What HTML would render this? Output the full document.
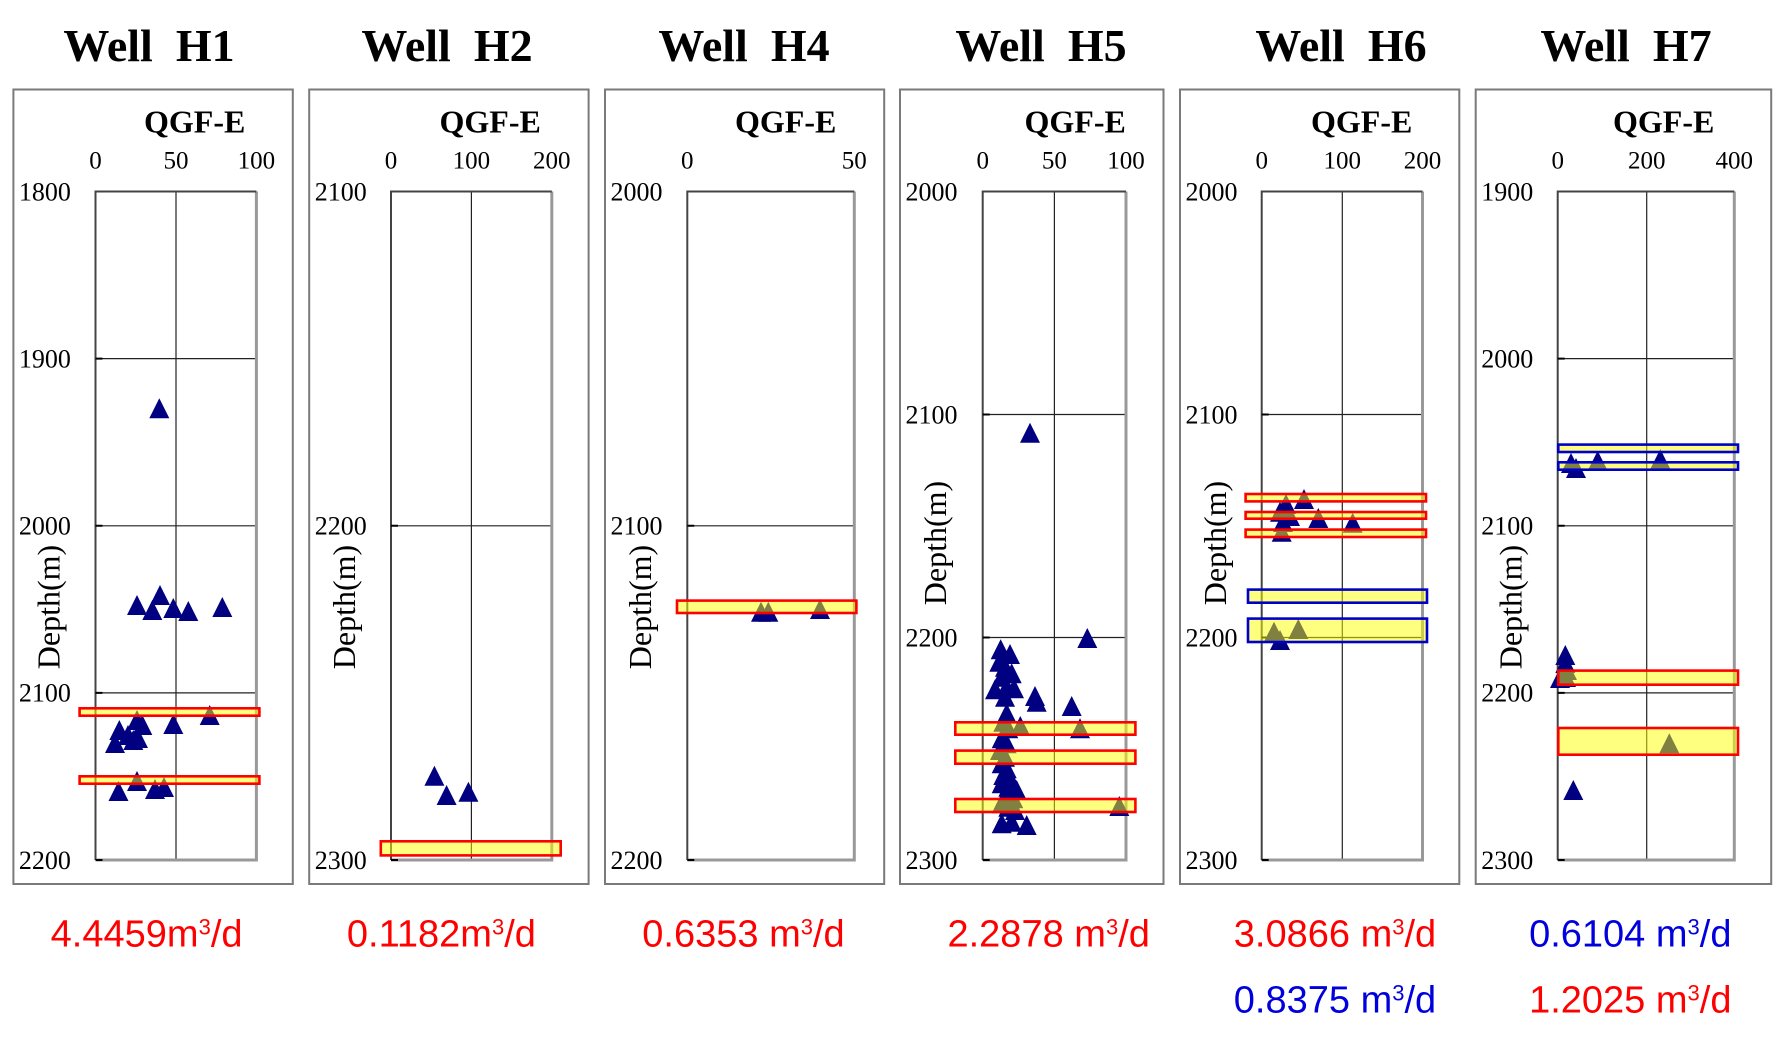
<!DOCTYPE html>
<html><head><meta charset="utf-8"><style>
html,body{margin:0;padding:0;background:#fff;}
svg{display:block;}
.t{font-family:"Liberation Serif",serif;font-weight:bold;font-size:46px;fill:#000;}
.q{font-family:"Liberation Serif",serif;font-weight:bold;font-size:32px;fill:#000;}
.xt{font-family:"Liberation Serif",serif;font-size:25px;fill:#000;text-anchor:middle;}
.yt{font-family:"Liberation Serif",serif;font-size:26px;fill:#000;text-anchor:end;}
.dp{font-family:"Liberation Serif",serif;font-size:32px;fill:#000;text-anchor:middle;}
.v{font-family:"Liberation Sans",sans-serif;font-size:38px;text-anchor:middle;}
.box{fill:none;stroke:#7a7a7a;stroke-width:2;}
.grid{stroke:#222;stroke-width:1.2;fill:none;}
.fl{stroke:#444;stroke-width:2;fill:none;}
.fr{stroke:#999;stroke-width:3;fill:none;}
.stub{stroke:#000;stroke-width:2;fill:none;}
.tri{fill:#000080;}
.rb{fill:rgba(255,255,0,0.5);stroke:#ff0000;stroke-width:2.6;}
.bb{fill:rgba(255,255,0,0.5);stroke:#0000cc;stroke-width:2.6;}
</style></head><body>
<svg width="1773" height="1045" viewBox="0 0 1773 1045" xmlns="http://www.w3.org/2000/svg">
<rect width="1773" height="1045" fill="#fff"/>

<text class="t" x="149" y="61" text-anchor="middle">Well&#160;&#160;H1</text>
<text class="t" x="447" y="61" text-anchor="middle">Well&#160;&#160;H2</text>
<text class="t" x="744" y="61" text-anchor="middle">Well&#160;&#160;H4</text>
<text class="t" x="1041" y="61" text-anchor="middle">Well&#160;&#160;H5</text>
<text class="t" x="1341" y="61" text-anchor="middle">Well&#160;&#160;H6</text>
<text class="t" x="1626" y="61" text-anchor="middle">Well&#160;&#160;H7</text>

<!-- ===== H1 ===== -->
<rect class="box" x="13.4" y="89.5" width="279.4" height="794.5"/>
<path class="grid" d="M95.5 358.6H256.4M95.5 525.8H256.4M95.5 692.9H256.4M176 191.5V860"/>
<path class="fr" d="M256.4 191.5V860H95.5"/>
<path class="fl" d="M95.5 860V191.5H256.4"/>
<path class="stub" d="M95.5 358.6h7M95.5 525.8h7M95.5 692.9h7M95.5 860h7"/>
<text class="q" x="144" y="132.7">QGF-E</text>
<text class="xt" x="95.5" y="168.3">0</text><text class="xt" x="176" y="168.3">50</text><text class="xt" x="256.4" y="168.3">100</text>
<text class="yt" x="70.9" y="200.3">1800</text><text class="yt" x="70.9" y="367.4">1900</text><text class="yt" x="70.9" y="534.6">2000</text><text class="yt" x="70.9" y="701.7">2100</text><text class="yt" x="70.9" y="868.8">2200</text>
<text class="dp" transform="translate(59.4,607) rotate(-90)">Depth(m)</text>
<g class="tri">
<path d="M159.3 398.3l10 20h-20z"/><path d="M137 595l10 20h-20z"/><path d="M160 585l10 20h-20z"/><path d="M152.3 600l10 20h-20z"/><path d="M173.3 598l10 20h-20z"/><path d="M188.3 601l10 20h-20z"/><path d="M222.3 597l10 20h-20z"/>
<path d="M137 710l10 20h-20z"/><path d="M142.3 715l10 20h-20z"/><path d="M119.3 720l10 20h-20z"/><path d="M115 733l10 20h-20z"/><path d="M133.3 730l10 20h-20z"/><path d="M128 725l10 20h-20z"/><path d="M138 728l10 20h-20z"/><path d="M173.3 714l10 20h-20z"/><path d="M209.7 705l10 20h-20z"/>
<path d="M137 771l10 20h-20z"/><path d="M118.5 781l10 20h-20z"/><path d="M155 779l10 20h-20z"/><path d="M164 777l10 20h-20z"/>
</g>
<rect class="rb" x="79.6" y="708.3" width="179.8" height="7.4"/>
<rect class="rb" x="79.6" y="776.3" width="179.8" height="7.4"/>

<!-- ===== H2 ===== -->
<rect class="box" x="309.2" y="89.5" width="279.4" height="794.5"/>
<path class="grid" d="M391 525.8H551.8M471.4 191.5V860"/>
<path class="fr" d="M551.8 191.5V860H391"/>
<path class="fl" d="M391 860V191.5H551.8"/>
<path class="stub" d="M391 525.8h7M391 860h7"/>
<text class="q" x="439.5" y="132.7">QGF-E</text>
<text class="xt" x="391" y="168.3">0</text><text class="xt" x="471.4" y="168.3">100</text><text class="xt" x="551.8" y="168.3">200</text>
<text class="yt" x="366.7" y="200.3">2100</text><text class="yt" x="366.7" y="534.6">2200</text><text class="yt" x="366.7" y="868.8">2300</text>
<text class="dp" transform="translate(355.2,607) rotate(-90)">Depth(m)</text>
<g class="tri">
<path d="M434.4 765.7l10 20h-20z"/><path d="M446.6 785l10 20h-20z"/><path d="M468.4 781.7l10 20h-20z"/>
</g>
<rect class="rb" x="380.8" y="841.3" width="179.9" height="14.1"/>

<!-- ===== H4 ===== -->
<rect class="box" x="605" y="89.5" width="279.2" height="794.5"/>
<path class="grid" d="M687.3 525.8H854.3"/>
<path class="fr" d="M854.3 191.5V860H687.3"/>
<path class="fl" d="M687.3 860V191.5H854.3"/>
<path class="stub" d="M687.3 525.8h7M687.3 860h7"/>
<text class="q" x="735" y="132.7">QGF-E</text>
<text class="xt" x="687.3" y="168.3">0</text><text class="xt" x="854.3" y="168.3">50</text>
<text class="yt" x="662.5" y="200.3">2000</text><text class="yt" x="662.5" y="534.6">2100</text><text class="yt" x="662.5" y="868.8">2200</text>
<text class="dp" transform="translate(651,607) rotate(-90)">Depth(m)</text>
<g class="tri">
<path d="M761 601.7l10 20h-20z"/><path d="M768.3 601.7l10 20h-20z"/><path d="M820 599l10 20h-20z"/>
</g>
<rect class="rb" x="677" y="600.6" width="179.4" height="12.4"/>

<!-- ===== H5 ===== -->
<rect class="box" x="900" y="89.5" width="263.5" height="794.5"/>
<path class="grid" d="M982.7 414.5H1126M982.7 637.5H1126M1054.4 191.5V860"/>
<path class="fr" d="M1126 191.5V860H982.7"/>
<path class="fl" d="M982.7 860V191.5H1126"/>
<path class="stub" d="M982.7 414.5h7M982.7 637.5h7M982.7 860h7"/>
<text class="q" x="1024.5" y="132.7">QGF-E</text>
<text class="xt" x="982.7" y="168.3">0</text><text class="xt" x="1054.4" y="168.3">50</text><text class="xt" x="1126" y="168.3">100</text>
<text class="yt" x="957.5" y="200.3">2000</text><text class="yt" x="957.5" y="423.3">2100</text><text class="yt" x="957.5" y="646.3">2200</text><text class="yt" x="957.5" y="868.8">2300</text>
<text class="dp" transform="translate(946,543) rotate(-90)">Depth(m)</text>
<g class="tri">
<path d="M1030 422.7l10 20h-20z"/><path d="M1087.3 628l10 20h-20z"/>
<path d="M1000.7 639.3l10 20h-20z"/><path d="M1010 644l10 20h-20z"/><path d="M999.3 651.7l10 20h-20z"/><path d="M1005 656.7l10 20h-20z"/><path d="M1011.7 663.3l10 20h-20z"/><path d="M1001.7 666.7l10 20h-20z"/>
<path d="M995 679.3l10 20h-20z"/><path d="M1006.7 676.7l10 20h-20z"/><path d="M1014 678.3l10 20h-20z"/><path d="M1005 686.7l10 20h-20z"/><path d="M1035 686l10 20h-20z"/><path d="M1036.7 691.7l10 20h-20z"/><path d="M1071.7 696l10 20h-20z"/>
<path d="M1006.7 703.3l10 20h-20z"/><path d="M1003.3 711.7l10 20h-20z"/><path d="M1020.3 716l10 20h-20z"/><path d="M1008.3 718.3l10 20h-20z"/><path d="M1080 718.3l10 20h-20z"/>
<path d="M1001.7 728.3l10 20h-20z"/><path d="M1006.7 733.3l10 20h-20z"/><path d="M1000 740l10 20h-20z"/><path d="M1005 746.7l10 20h-20z"/><path d="M1001.7 753.3l10 20h-20z"/><path d="M1006.7 758.3l10 20h-20z"/>
<path d="M1003.3 765l10 20h-20z"/><path d="M1010 768.3l10 20h-20z"/><path d="M1001.7 773.3l10 20h-20z"/><path d="M1008.3 776.7l10 20h-20z"/><path d="M1016.7 780l10 20h-20z"/><path d="M1005 786.7l10 20h-20z"/><path d="M1013.3 788.3l10 20h-20z"/>
<path d="M1001.7 793.3l10 20h-20z"/><path d="M1008.3 796.7l10 20h-20z"/><path d="M1015 800l10 20h-20z"/><path d="M1119.3 796l10 20h-20z"/>
<path d="M1001.7 813.3l10 20h-20z"/><path d="M1026.7 815l10 20h-20z"/><path d="M1011.7 811.7l10 20h-20z"/>
</g>
<rect class="rb" x="955.3" y="722.3" width="180.1" height="12.4"/>
<rect class="rb" x="955.3" y="750.6" width="180.1" height="13.1"/>
<rect class="rb" x="955.3" y="799" width="180.1" height="13"/>

<!-- ===== H6 ===== -->
<rect class="box" x="1180" y="89.5" width="279.3" height="794.5"/>
<path class="grid" d="M1261.7 414.5H1422.5M1261.7 637.5H1422.5M1342.3 191.5V860"/>
<path class="fr" d="M1422.5 191.5V860H1261.7"/>
<path class="fl" d="M1261.7 860V191.5H1422.5"/>
<path class="stub" d="M1261.7 414.5h7M1261.7 637.5h7M1261.7 860h7"/>
<text class="q" x="1311" y="132.7">QGF-E</text>
<text class="xt" x="1261.7" y="168.3">0</text><text class="xt" x="1342.3" y="168.3">100</text><text class="xt" x="1422.5" y="168.3">200</text>
<text class="yt" x="1237.5" y="200.3">2000</text><text class="yt" x="1237.5" y="423.3">2100</text><text class="yt" x="1237.5" y="646.3">2200</text><text class="yt" x="1237.5" y="868.8">2300</text>
<text class="dp" transform="translate(1226,543) rotate(-90)">Depth(m)</text>
<g class="tri">
<path d="M1286 494l10 20h-20z"/><path d="M1304 489l10 20h-20z"/><path d="M1280 501.7l10 20h-20z"/><path d="M1290 506l10 20h-20z"/><path d="M1318.3 508l10 20h-20z"/><path d="M1352.7 512.7l10 20h-20z"/><path d="M1281.7 521.7l10 20h-20z"/><path d="M1283 512l10 20h-20z"/>
<path d="M1274 621.7l10 20h-20z"/><path d="M1280 630l10 20h-20z"/><path d="M1298.3 619l10 20h-20z"/>
</g>
<rect class="rb" x="1245.6" y="494" width="180.4" height="7.4"/>
<rect class="rb" x="1245.6" y="512" width="180.4" height="6.7"/>
<rect class="rb" x="1245.6" y="529.6" width="180.4" height="7.4"/>
<rect class="bb" x="1248" y="589.6" width="179" height="13.1"/>
<rect class="bb" x="1248" y="618.6" width="179" height="23.4"/>

<!-- ===== H7 ===== -->
<rect class="box" x="1475.7" y="89.5" width="295.5" height="794.5"/>
<path class="grid" d="M1557.7 358.6H1734.3M1557.7 525.8H1734.3M1557.7 692.9H1734.3M1646.7 191.5V860"/>
<path class="fr" d="M1734.3 191.5V860H1557.7"/>
<path class="fl" d="M1557.7 860V191.5H1734.3"/>
<path class="stub" d="M1557.7 358.6h7M1557.7 525.8h7M1557.7 692.9h7M1557.7 860h7"/>
<text class="q" x="1613" y="132.7">QGF-E</text>
<text class="xt" x="1557.7" y="168.3">0</text><text class="xt" x="1646.7" y="168.3">200</text><text class="xt" x="1734.3" y="168.3">400</text>
<text class="yt" x="1533.2" y="200.3">1900</text><text class="yt" x="1533.2" y="367.4">2000</text><text class="yt" x="1533.2" y="534.6">2100</text><text class="yt" x="1533.2" y="701.7">2200</text><text class="yt" x="1533.2" y="868.8">2300</text>
<text class="dp" transform="translate(1521.7,607) rotate(-90)">Depth(m)</text>
<g class="tri">
<path d="M1571 453l10 20h-20z"/><path d="M1576 458l10 20h-20z"/><path d="M1597.7 450.7l10 20h-20z"/><path d="M1660.3 449l10 20h-20z"/>
<path d="M1565.3 645l10 20h-20z"/><path d="M1565.3 653l10 20h-20z"/><path d="M1567 660l10 20h-20z"/><path d="M1566 667l10 20h-20z"/><path d="M1560 668l10 20h-20z"/>
<path d="M1669.3 733.3l10 20h-20z"/><path d="M1573.3 780l10 20h-20z"/>
</g>
<rect class="bb" x="1558.3" y="444.6" width="179.7" height="7.4"/>
<rect class="bb" x="1558.3" y="462.3" width="179.7" height="7.4"/>
<rect class="rb" x="1558.3" y="670.6" width="179.7" height="14.1"/>
<rect class="rb" x="1558.3" y="728" width="179.7" height="26.7"/>

<!-- Bottom values -->
<text class="v" x="146.6" y="946.7" fill="#ff0000">4.4459m<tspan font-size="22" dy="-12">3</tspan><tspan dy="12">/d</tspan></text>
<text class="v" x="441.4" y="946.7" fill="#ff0000">0.1182m<tspan font-size="22" dy="-12">3</tspan><tspan dy="12">/d</tspan></text>
<text class="v" x="743.5" y="946.7" fill="#ff0000">0.6353 m<tspan font-size="22" dy="-12">3</tspan><tspan dy="12">/d</tspan></text>
<text class="v" x="1048.7" y="946.7" fill="#ff0000">2.2878 m<tspan font-size="22" dy="-12">3</tspan><tspan dy="12">/d</tspan></text>
<text class="v" x="1335" y="946.7" fill="#ff0000">3.0866 m<tspan font-size="22" dy="-12">3</tspan><tspan dy="12">/d</tspan></text>
<text class="v" x="1335" y="1012.3" fill="#0000dd">0.8375 m<tspan font-size="22" dy="-12">3</tspan><tspan dy="12">/d</tspan></text>
<text class="v" x="1630.3" y="946.7" fill="#0000dd">0.6104 m<tspan font-size="22" dy="-12">3</tspan><tspan dy="12">/d</tspan></text>
<text class="v" x="1630.3" y="1012.3" fill="#ff0000">1.2025 m<tspan font-size="22" dy="-12">3</tspan><tspan dy="12">/d</tspan></text>
</svg>
</body></html>
